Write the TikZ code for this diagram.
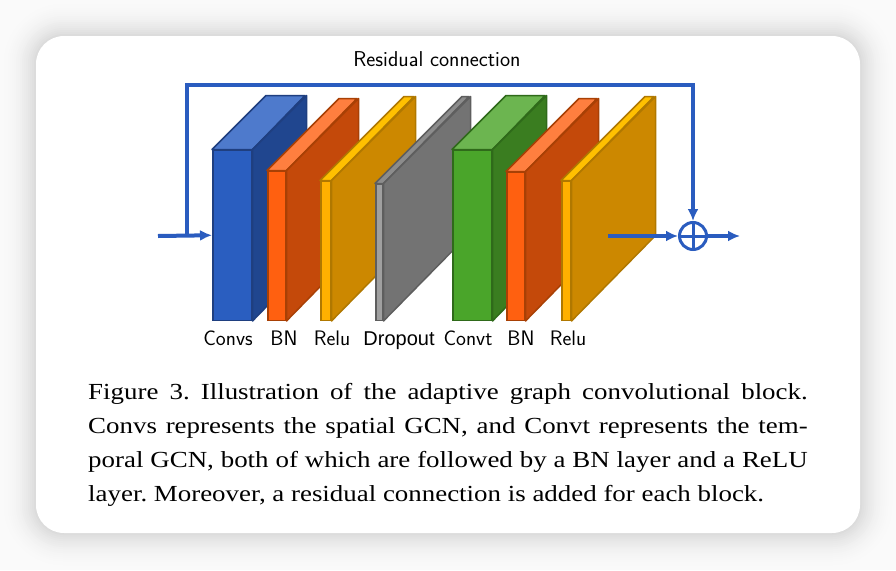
\documentclass[tikz,border=0pt]{standalone}
\usepackage{fontspec}
\usepackage{xcolor}
\usepackage{tikz}
\usetikzlibrary{arrows.meta}
\newfontfamily\capfont{Liberation Serif}
\newfontfamily\arialfont{Liberation Sans}
\definecolor{resblue}{HTML}{2A5CBF}
\definecolor{blF}{HTML}{2A5EC0}
\definecolor{blT}{HTML}{4E7ACC}
\definecolor{blS}{HTML}{20468F}
\definecolor{blE}{HTML}{1F3F80}
\definecolor{orF}{HTML}{FF6010}
\definecolor{orT}{HTML}{FF7F3F}
\definecolor{orS}{HTML}{C4490A}
\definecolor{orE}{HTML}{A84005}
\definecolor{yeF}{HTML}{FFB000}
\definecolor{yeT}{HTML}{FFC000}
\definecolor{yeS}{HTML}{CC8800}
\definecolor{yeE}{HTML}{B07800}
\definecolor{grF}{HTML}{A0A0A0}
\definecolor{grT}{HTML}{8C8C8C}
\definecolor{grS}{HTML}{737373}
\definecolor{grE}{HTML}{5E5E5E}
\definecolor{gnF}{HTML}{4AA52A}
\definecolor{gnT}{HTML}{6CB550}
\definecolor{gnS}{HTML}{3A7D20}
\definecolor{gnE}{HTML}{2F6A1A}
\tikzstyle{arrow} = [-{Latex[length=12pt,width=11pt]}, line width=4pt, draw=resblue]
\tikzstyle{slab} = [rectangle, inner sep=0pt, anchor=south west, line width=1.5pt]
\tikzstyle{lbl} = [anchor=base, inner sep=0pt, font=\sffamily\fontsize{21}{25}\selectfont]

\begin{document}
\begin{tikzpicture}[x=1pt, y=-1pt]
	\useasboundingbox (0,0) rectangle (896,570);
	\fill[black!2] (0,0) rectangle (896,570);
	\foreach \k in {36,34,...,0} {
		\pgfmathsetmacro\pct{2+13*(1-\k/36)^2}
		\pgfmathsetmacro\rad{28+\k}
		\fill[black!\pct, rounded corners=\rad pt] (36-\k,36-\k) rectangle (860+\k,533+\k);
	}
	\fill[white, rounded corners=28pt] (36,36) rectangle (860,533);

	\foreach \nm/\x/\w/\h/\d/\col in {convs/212/39/170/54/bl, bna/267/18/149/72/or, relua/320/10/139/84/ye, drop/375/7/136/87/gr, convt/452/39/170/54/gn, bnb/506/18/148/73/or, relub/561/9/139/84/ye} {
		\node[slab, fill=\col F, draw=\col E, minimum width=\w pt, minimum height=\h pt] (\nm) at (\x,321) {};
		\filldraw[fill=\col T, draw=\col E, line width=1.5pt, line join=round] (\nm.north west) -- ++(\d,-\d) -- ++(\w,0) -- (\nm.north east) -- cycle;
		\filldraw[fill=\col S, draw=\col E, line width=1.5pt, line join=round] (\nm.north east) -- ++(\d,-\d) -- ++(0,\h) -- (\nm.south east) -- cycle;
	}

	\node[lbl] (lconvs) at (228,345) {Convs};
	\node[lbl] (lbna) at (284,345) {BN};
	\node[lbl] (lrelua) at (332,345) {Relu};
	\node[lbl, font=\arialfont\fontsize{20}{24}\selectfont] (ldrop) at (399,345) {Dropout};
	\node[lbl] (lconvt) at (468,345) {Convt};
	\node[lbl] (lbnb) at (521,345) {BN};
	\node[lbl] (lrelub) at (568,345) {Relu};
	\node[lbl, font=\sffamily\fontsize{21.5}{25}\selectfont] (lres) at (437,66) {Residual connection};

	\node[circle, draw=resblue, line width=3pt, minimum size=27pt, inner sep=0pt] (plus) at (693,236) {};
	\draw[resblue, line width=3pt] (plus.north) -- (plus.south) (plus.west) -- (plus.east);

	\coordinate (in) at (158,236);
	\coordinate (split) at (187,236);
	\coordinate (restop) at (187,85);
	\coordinate (relout) at (608,236);
	\coordinate (out) at (740,236);

	\draw [arrow] (in) -- (convs.west);
	\draw [arrow] (split) -- (restop) -| (plus.north);
	\draw [arrow] (relout) -- (plus.west);
	\draw [arrow] (plus.east) -- (out);

	\node[anchor=north west, inner sep=0pt] (caption) at (88,383) {\scalebox{1.17}[1]{\parbox{615pt}{\capfont\fontsize{23}{34}\selectfont\frenchspacing
		Figure 3. Illustration of the adaptive graph convolutional block.\linebreak
		Convs represents the spatial GCN, and Convt represents the tem-\linebreak
		poral GCN, both of which are followed by a BN layer and a ReLU\linebreak
		layer. Moreover, a residual connection is added for each block.}}};
\end{tikzpicture}
\end{document}
